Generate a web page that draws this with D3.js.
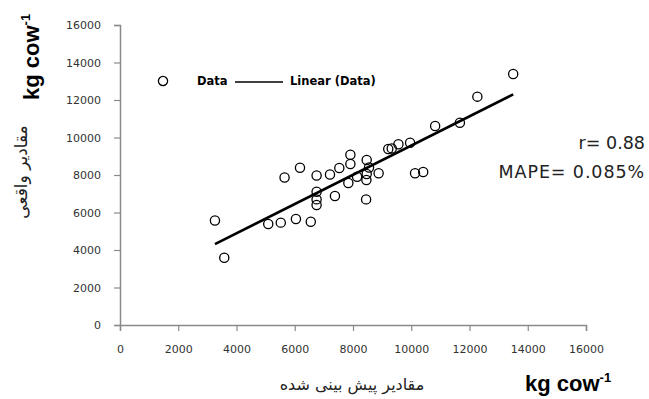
<!DOCTYPE html>
<html>
<head>
<meta charset="utf-8">
<script src="https://cdn.jsdelivr.net/npm/d3@7"></script>
<style>
  body { margin: 0; background: #fff; }
  svg { display: block; }
</style>
</head>
<body>
<div id="chart"></div>
<script>
// predicted values (x) and observed values (y), kg cow-1
var predicted = [3260, 3580, 5090, 5520, 6040, 6550, 5650, 6180, 6750, 7210,
                 6750, 6750, 6750, 7380, 8450, 7530, 7910, 7910, 7840, 8140,
                 8470, 8550, 8470, 8460, 8880, 10130, 10410, 9210, 9330, 9560,
                 9960, 10820, 11670, 12270, 13500];
var observed  = [5570, 3590, 5390, 5460, 5650, 5510, 7870, 8390, 7970, 8030,
                 7110, 6700, 6400, 6880, 6700, 8370, 9080, 8590, 7570, 7910,
                 8800, 8400, 8050, 7730, 8090, 8090, 8160, 9390, 9420, 9640,
                 9720, 10610, 10790, 12180, 13390];
var xTicks = [0, 2000, 4000, 6000, 8000, 10000, 12000, 14000, 16000];
var yTicks = [0, 2000, 4000, 6000, 8000, 10000, 12000, 14000, 16000];
var stats = ["r= 0.88", "MAPE= 0.085%"];

var data = predicted.map((p, i) => ({x: p, y: observed[i]}));

var svg_width = 649;
var svg_height = 399;
var margins = {top: 25, left: 120, right: 63, bottom: 74};
var width = svg_width - margins.left - margins.right;
var height = svg_height - margins.top - margins.bottom;

var svg = d3.select("#chart")
            .append("svg")
            .attr("width", svg_width)
            .attr("height", svg_height);

var g = svg.append("g")
           .attr("transform", "translate(" + margins.left + "," + margins.top + ")");

// scales
var x = d3.scaleLinear().domain([0, 16000]).range([0, width]);
var y = d3.scaleLinear().domain([0, 16000]).range([height, 0]);

var axisColor = "#8a8a8a";
var tickFont = "'DejaVu Sans', sans-serif";

var xAxis = d3.axisBottom(x).tickValues(xTicks).tickSize(6).tickPadding(14).tickFormat(d3.format("d"));
var yAxis = d3.axisLeft(y).tickValues(yTicks).tickSize(6).tickPadding(13).tickFormat(d3.format("d"));

var gx = g.append("g")
          .attr("transform", "translate(0," + height + ")")
          .call(xAxis);
var gy = g.append("g").call(yAxis);

[gx, gy].forEach(ax => {
  ax.select(".domain").attr("stroke", axisColor).attr("stroke-width", 1.5);
  ax.selectAll(".tick line").attr("stroke", axisColor).attr("stroke-width", 1.2);
  ax.selectAll(".tick text")
    .attr("fill", "#333")
    .style("font-family", tickFont)
    .style("font-size", "11px");
});

// linear fit (least squares), drawn across the data range
var mx = d3.mean(data, d => d.x), my = d3.mean(data, d => d.y);
var sxy = d3.sum(data, d => (d.x - mx) * (d.y - my));
var sxx = d3.sum(data, d => (d.x - mx) * (d.x - mx));
var slope = sxy / sxx;
var intercept = my - slope * mx;
var xr = d3.extent(data, d => d.x);

g.append("line")
 .attr("x1", x(xr[0])).attr("y1", y(intercept + slope * xr[0]))
 .attr("x2", x(xr[1])).attr("y2", y(intercept + slope * xr[1]))
 .attr("stroke", "#000")
 .attr("stroke-width", 2.6);

// data points
g.append("g")
 .selectAll("circle")
 .data(data)
 .enter()
 .append("circle")
 .attr("cx", d => x(d.x))
 .attr("cy", d => y(d.y))
 .attr("r", 4.6)
 .attr("fill", "none")
 .attr("stroke", "#000")
 .attr("stroke-width", 1.3);

// legend
var legendFont = "'DejaVu Sans', sans-serif";
var legend = svg.append("g").attr("transform", "translate(163,81)");
legend.append("circle").attr("r", 4.6).attr("fill", "none").attr("stroke", "#000").attr("stroke-width", 1.3);
legend.append("text").attr("x", 34).attr("y", 4)
      .text("Data")
      .style("font-family", legendFont).style("font-size", "11.5px").style("font-weight", "bold");
legend.append("line").attr("x1", 72).attr("x2", 120).attr("y1", 1).attr("y2", 1)
      .attr("stroke", "#000").attr("stroke-width", 1.5);
legend.append("text").attr("x", 127).attr("y", 4)
      .text("Linear (Data)")
      .style("font-family", legendFont).style("font-size", "11.5px").style("font-weight", "bold");

// statistics
svg.append("g")
   .selectAll("text")
   .data(stats)
   .enter()
   .append("text")
   .attr("x", 645)
   .attr("y", (d, i) => 149 + i * 29)
   .attr("text-anchor", "end")
   .attr("fill", "#222")
   .style("font-family", "'DejaVu Sans', sans-serif")
   .style("font-size", "17.5px")
   .style("letter-spacing", (d, i) => i ? "0.9px" : "0px")
   .text(d => d);

// axis titles: units
function unitTitle(sel) {
  sel.style("font-family", "'Liberation Sans', Arial, sans-serif")
     .style("font-weight", "bold")
     .style("font-size", "22px");
  sel.append("tspan").text("kg cow");
  sel.append("tspan").attr("dy", -9).style("font-size", "13px").text("-1");
}
svg.append("text")
   .attr("transform", "translate(39,100) rotate(-90)")
   .call(unitTitle);
svg.append("text")
   .attr("x", 525).attr("y", 391)
   .call(unitTitle);

// axis titles: persian
svg.append("text")
   .attr("x", 352).attr("y", 390)
   .attr("text-anchor", "middle")
   .attr("fill", "#222")
   .style("font-family", "'DejaVu Sans', sans-serif")
   .style("font-size", "16px")
   .text("مقادیر پیش بینی شده");
svg.append("text")
   .attr("transform", "translate(27,172) rotate(-90)")
   .attr("text-anchor", "middle")
   .attr("fill", "#222")
   .style("font-family", "'DejaVu Sans', sans-serif")
   .style("font-size", "17px")
   .text("مقادیر واقعی");
</script>
</body>
</html>
